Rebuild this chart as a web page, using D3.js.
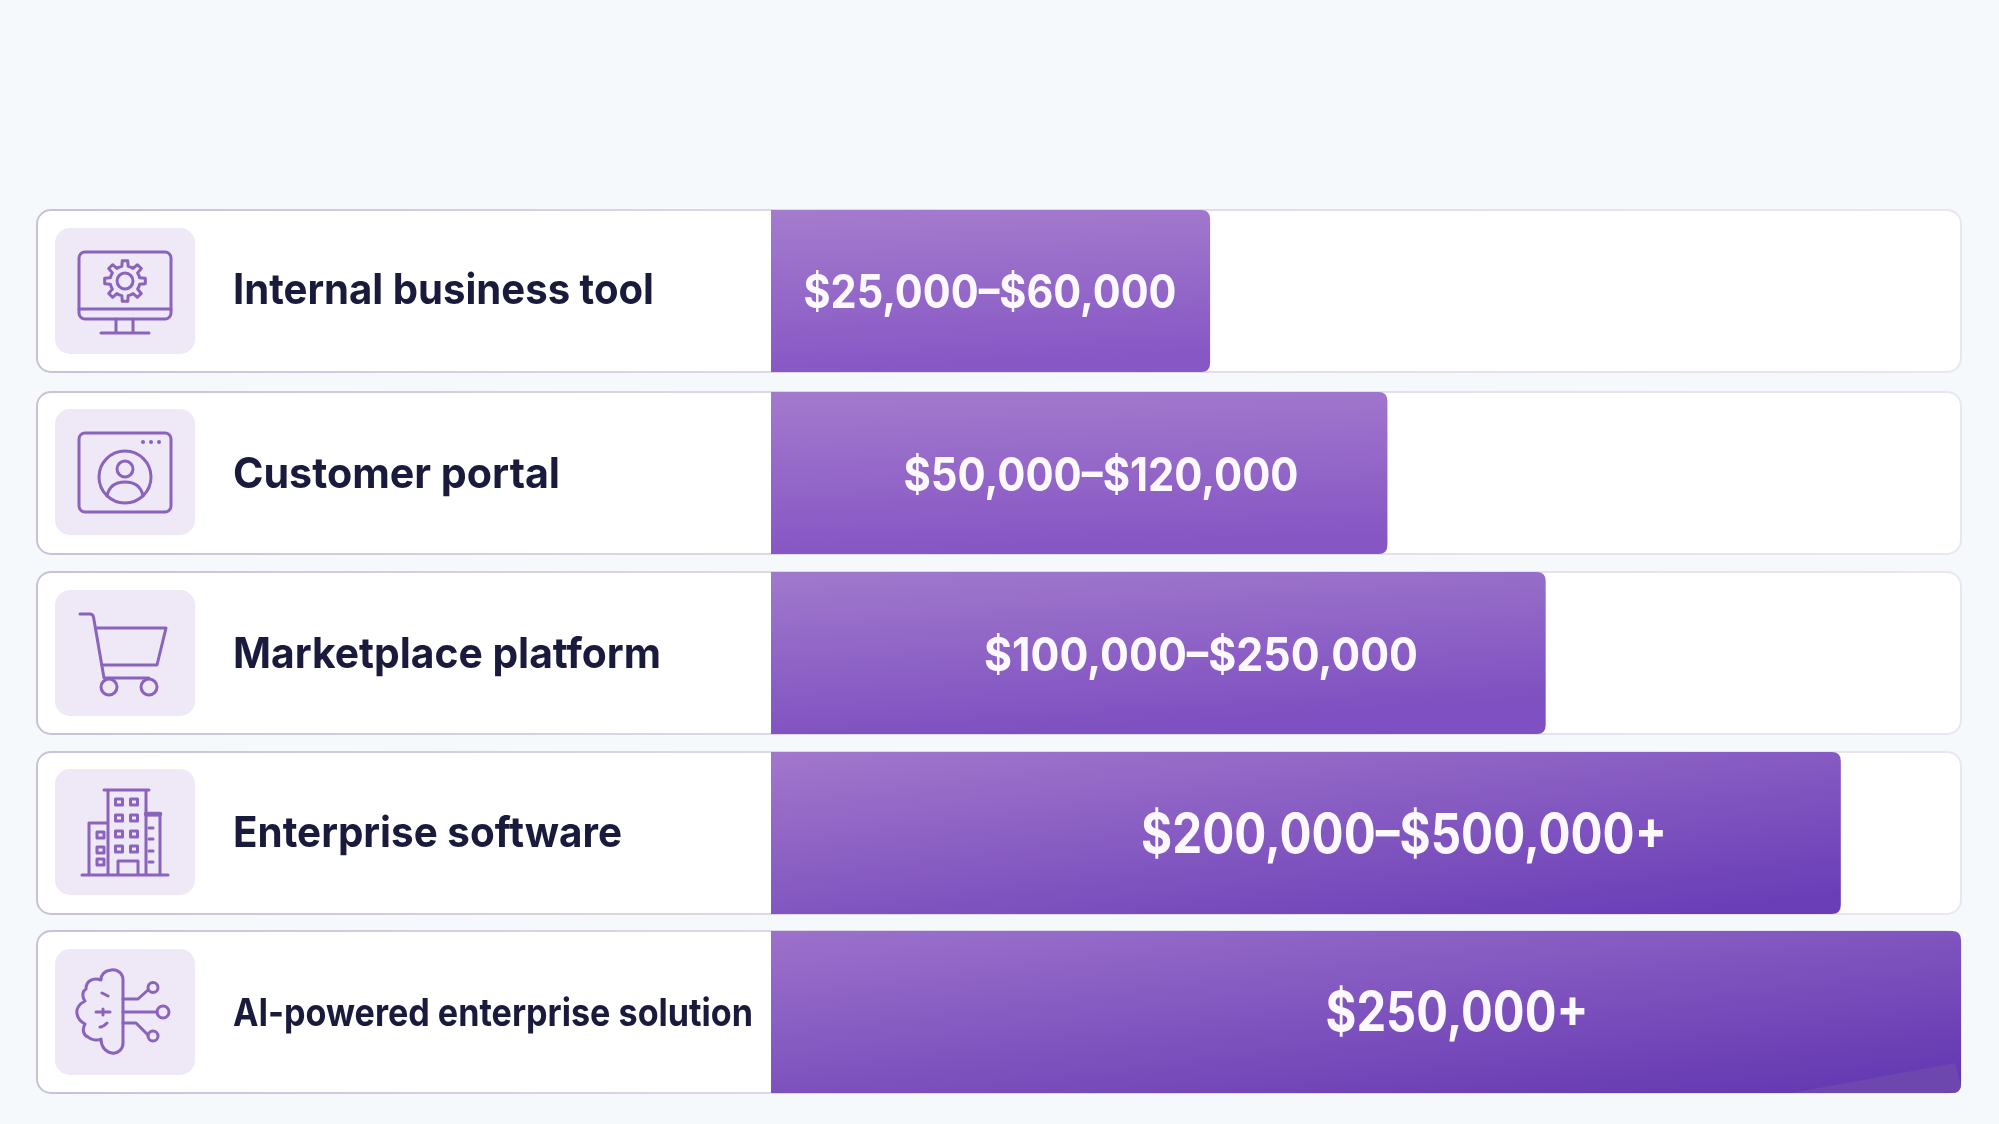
<!DOCTYPE html>
<html><head><meta charset="utf-8">
<script src="https://cdn.jsdelivr.net/npm/d3@7"></script>
<style>html,body{margin:0;padding:0;background:#f5f9fc;overflow:hidden}svg{display:block;filter:blur(0.5px)}text{font-family:Inter,"Noto Sans",sans-serif}</style>
</head><body><svg id="c" width="1999" height="1124"></svg>
<script>
// ---- data ----
const categories = ["Internal business tool","Customer portal","Marketplace platform","Enterprise software","AI-powered enterprise solution"];
const priceLabels = ["$25,000–$60,000","$50,000–$120,000","$100,000–$250,000","$200,000–$500,000+","$250,000+"];
const barShare = [36.9, 51.8, 65.1, 89.9, 100];           // bar length, % of the track
const iconKinds = ["monitor","portal","cart","building","brain"];
// ---- presentation ----
const rowTops = [210, 392, 572, 752, 931];
const tileDy = [18, 17, 18, 17, 18];
const labelWidths = [421, 327, 428, 389, 520];
const labelSizes = [42.5, 42.5, 42.5, 42.5, 38.5];
const labelBaselineDy = [94, 96, 96, 95, 95];
const priceCenters = [990, 1101, 1201, 1404, 1457];
const priceWidths = [373, 395, 434, 526, 263];
const priceSizes = [46, 46, 46, 54.5, 54.5];
const priceBaselineDy = [98, 99, 99, 101, 100];
const gradStart = ["#a47ccd","#a37acd","#a179cc","#a277cc","#9c71cc"];
const gradEnd = ["#8757c5","#8656c4","#7e50c1","#6a3eb7","#6438b1"];
const gradTilt = [0.12, 0.12, 0.3, 0.85, 0.9];

const svg = d3.select("#c");
const y = d3.scaleOrdinal(categories, rowTops);
const x = d3.scaleLinear().domain([0,100]).range([771,1961]);
const cardLeft = 37, cardRight = 1961, R = 14, h = 162;

const defs = svg.append("defs");
const edge = defs.append("linearGradient").attr("id","edge").attr("gradientUnits","userSpaceOnUse")
  .attr("x1",cardLeft).attr("x2",cardRight).attr("y1",0).attr("y2",0);
edge.append("stop").attr("offset",0).attr("stop-color","#c9c1d8");
edge.append("stop").attr("offset",0.35).attr("stop-color","#dcd6e6");
edge.append("stop").attr("offset",1).attr("stop-color","#e9e6f1");
categories.forEach((c,i)=>{
  const g = defs.append("linearGradient").attr("id","bar"+i).attr("x1",0).attr("y1",0).attr("x2",gradTilt[i]).attr("y2",1);
  g.append("stop").attr("offset",0).attr("stop-color",gradStart[i]);
  g.append("stop").attr("offset",1).attr("stop-color",gradEnd[i]);
});

const row = svg.selectAll("g.row").data(categories).join("g").attr("class","row")
  .attr("transform",d=>`translate(0,${y(d)})`);

row.append("rect").attr("x",cardLeft).attr("y",0).attr("width",cardRight-cardLeft).attr("height",h)
  .attr("rx",R).attr("fill","#fff").attr("stroke","url(#edge)").attr("stroke-width",2);

row.append("path").attr("fill",(d,i)=>`url(#bar${i})`).attr("d",(d,i)=>{
  const x0=x(0), x1=x(barShare[i]), r=9;
  const b=d3.path();
  b.moveTo(x0,0); b.lineTo(x1-r,0); b.quadraticCurveTo(x1,0,x1,r);
  b.lineTo(x1,h-r); b.quadraticCurveTo(x1,h,x1-r,h); b.lineTo(x0,h); b.closePath();
  return b.toString();
});

// faint lighter wedge in the corner of the longest bar
row.filter((d,i)=>i===4).append("path").attr("fill","#6d47ad").attr("d",()=>{
  const x1=x(100), r=9, b=d3.path();
  b.moveTo(x1-170,h); b.lineTo(x1-60,h-20); b.lineTo(x1-6,h-30); b.lineTo(x1,h-r);
  b.quadraticCurveTo(x1,h,x1-r,h); b.closePath();
  return b.toString();
});

row.append("rect").attr("x",55).attr("y",(d,i)=>tileDy[i]).attr("width",140).attr("height",126).attr("rx",15).attr("fill","#efe8f7");

row.append("text").text(d=>d).attr("x",233)
  .attr("y",(d,i)=>labelBaselineDy[i])
  .attr("font-size",(d,i)=>labelSizes[i]).attr("font-weight",650).attr("fill","#1a1a3c")
  .attr("textLength",(d,i)=>labelWidths[i]).attr("lengthAdjust","spacingAndGlyphs");

row.append("text").text((d,i)=>priceLabels[i]).attr("text-anchor","middle")
  .attr("x",(d,i)=>priceCenters[i]).attr("y",(d,i)=>priceBaselineDy[i])
  .attr("font-size",(d,i)=>priceSizes[i]).attr("font-weight",680).attr("fill","#fbf9fe")
  .attr("textLength",(d,i)=>priceWidths[i]).attr("lengthAdjust","spacingAndGlyphs");

// ---- icons (drawn in tile-local units) ----
function gearPath(cx,cy,ro,ri,n){
  const pts=[], step=2*Math.PI/n;
  for(let k=0;k<n;k++){
    const a=k*step-Math.PI/2;
    [[-.5,ri],[-.27,ri],[-.17,ro],[.17,ro],[.27,ri],[.5,ri]].forEach(([t,r])=>{
      pts.push([cx+r*Math.cos(a+t*step),cy+r*Math.sin(a+t*step)]);
    });
  }
  return d3.line().curve(d3.curveLinearClosed)(pts);
}
const iconDraw = {
  monitor(g){
    g.append("rect").attr("x",24).attr("y",24).attr("width",92).attr("height",67).attr("rx",6);
    g.append("path").attr("d","M24 81H116M61 91V105M78 91V105M46 105H94");
    g.append("path").attr("d",gearPath(70,53,20.5,15,8)).attr("stroke-linejoin","round");
    g.append("circle").attr("cx",70).attr("cy",53).attr("r",8);
  },
  portal(g){
    g.append("rect").attr("x",24).attr("y",24).attr("width",92).attr("height",79).attr("rx",6);
    g.append("circle").attr("cx",70).attr("cy",68).attr("r",26);
    g.append("circle").attr("cx",70).attr("cy",60).attr("r",8);
    g.append("path").attr("d","M52 87C54 77 61 73 70 73C79 73 86 77 88 87");
    g.selectAll("circle.dot").data([88,96,104]).join("circle").attr("class","dot")
      .attr("cx",d=>d).attr("cy",33).attr("r",2).attr("fill","#8a63bd").attr("stroke","none");
  },
  cart(g){
    g.append("path").attr("d","M25 24H35C37 24 38 25 38.5 27L49 88H94");
    g.append("path").attr("d","M41 38H111L102 75H47");
    g.append("circle").attr("cx",54).attr("cy",97).attr("r",8);
    g.append("circle").attr("cx",94).attr("cy",97).attr("r",8);
  },
  building(g){
    g.append("path").attr("d","M27 106H113M49 21H94M53 21V106M91 21V106M53 54H34V106M91 46H105V106M63 106V92H83V106");
    g.append("path").attr("d","M91 45H105").attr("stroke-width",4.5);
    [33,49,65,80].forEach(ry=>[64,79].forEach(rx=>{
      g.append("rect").attr("x",rx-3.5).attr("y",ry-3).attr("width",7).attr("height",6);
    }));
    [66,81,93].forEach(ry=>g.append("rect").attr("x",42).attr("y",ry-3).attr("width",7).attr("height",6));
    g.append("path").attr("d","M94 59H98M94 70H98M94 82H98M94 93H98");
  },
  brain(g){
    g.append("path").attr("d","M68 31C68 24 62 20 56 21C49 22 46 26 46 31C38 28 31 32 31 40C26 43 28 50 30 52C24 55 21 60 22 65C23 70 26 73 30 75C27 80 28 86 33 88C36 91 42 92 46 90C46 97 50 103 57 104C63 105 68 100 68 94Z");
    g.append("path").attr("d","M68 50H83L93 41M68 63H102M68 74H81L93 86");
    g.append("circle").attr("cx",98).attr("cy",38.5).attr("r",5);
    g.append("circle").attr("cx",108).attr("cy",63).attr("r",6);
    g.append("circle").attr("cx",98).attr("cy",87).attr("r",5);
    g.append("path").attr("d","M47 44L53 47M41 63H55M45 78C48 78 50 76 52 74M48 60V66");
  }
};
row.each(function(d,i){
  const g=d3.select(this).append("g").attr("transform",`translate(55,${tileDy[i]})`)
    .attr("fill","none").attr("stroke","#8a63bd").attr("stroke-width",3).attr("stroke-linecap","round").attr("stroke-linejoin","round");
  iconDraw[iconKinds[i]](g);
});
</script></body></html>
